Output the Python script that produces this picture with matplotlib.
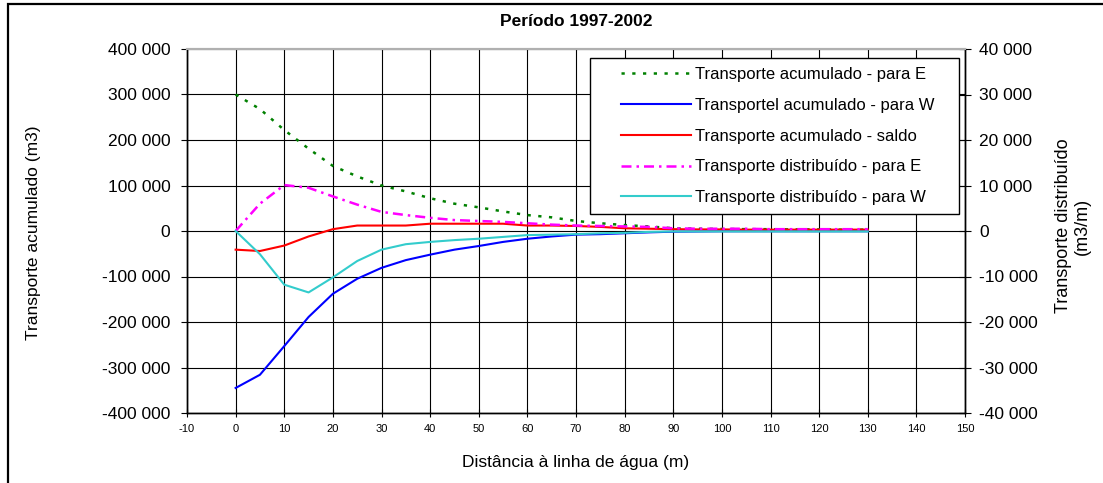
# Transporte acumulado e distribuído ao longo do perfil (1997-2002)
import matplotlib.pyplot as plt
from matplotlib.patches import Rectangle
from matplotlib.ticker import FuncFormatter

plt.rcParams['font.family'] = ['Liberation Sans', 'DejaVu Sans']
plt.rcParams['axes.unicode_minus'] = False

# distância à linha de água (m)
dist = [0, 5, 10, 15, 20, 25, 30, 35, 40, 45, 50, 55, 60, 65, 70,
        75, 80, 85, 90, 95, 100, 105, 110, 115, 120, 125, 130]

# eixo esquerdo (m3)
acum_E = [300000, 268000, 222000, 181000, 143000, 120000, 100000, 87000, 72000,
          60000, 52000, 43000, 35000, 30000, 22000, 17000, 13000, 10000, 6000,
          5000, 4500, 4000, 4000, 3500, 3500, 3000, 3000]
acum_W = [-345000, -316000, -253000, -189000, -138000, -105000, -81000, -64000,
          -52000, -41000, -33000, -24000, -17000, -12000, -8000, -7000, -5000,
          -3000, -1500, -1000, -500, -500, -500, -500, -500, -500, -500]
saldo = [-41000, -44000, -32000, -12000, 4000, 12000, 12000, 12000, 16000, 16000,
         16000, 16000, 12000, 12000, 11000, 9000, 6000, 5000, 4000, 3500, 3500,
         3000, 3000, 3000, 3000, 3000, 3000]

# eixo direito (m3/m)
distr_E = [0, 6000, 10100, 9500, 7600, 5800, 4200, 3500, 2900, 2400, 2200, 2000,
           1700, 1400, 1200, 1100, 1000, 900, 600, 500, 500, 500, 400, 400, 400,
           400, 400]
distr_W = [0, -5100, -11800, -13500, -10200, -6600, -4100, -2900, -2400, -2000,
           -1700, -1300, -900, -800, -700, -500, -400, -200, -100, -100, -100,
           -100, -100, -100, -100, -100, -100]

W, H = 1103, 483
fig = plt.figure(figsize=(W / 100, H / 100), dpi=100)
x0, x1, y0, y1 = 187, 965, 49, 413
ax = fig.add_axes([x0 / W, 1 - y1 / H, (x1 - x0) / W, (y1 - y0) / H])
ax2 = ax.twinx()

# moldura exterior
fig.patches.append(Rectangle((8 / W, -0.1), 1.2, 1 - 4 / H + 0.1, transform=fig.transFigure,
                             fill=False, edgecolor='black', linewidth=1.6))

fmt = FuncFormatter(lambda v, p: f"{int(v):,}".replace(",", " "))

l1, = ax.plot(dist, acum_E, color='#008000', linewidth=1.8, linestyle=(0, (1.3, 3)),
              label='Transporte acumulado - para E')
l2, = ax.plot(dist, acum_W, color='#0000ff', linewidth=1.5,
              label='Transportel acumulado - para W')
l3, = ax.plot(dist, saldo, color='#ff0000', linewidth=1.5,
              label='Transporte acumulado - saldo')
l4, = ax2.plot(dist, distr_E, color='#ff00ff', linewidth=1.8, linestyle=(0, (4, 2, 1, 2)),
               label='Transporte distribuído - para E')
l5, = ax2.plot(dist, distr_W, color='#33cccc', linewidth=1.5,
               label='Transporte distribuído - para W')

ax.set_xlim(-10, 150)
ax.set_xticks(range(-10, 151, 10))
ax.set_ylim(-400000, 400000)
ax.set_yticks(range(-400000, 400001, 100000))
ax2.set_ylim(-40000, 40000)
ax2.set_yticks(range(-40000, 40001, 10000))
ax.yaxis.set_major_formatter(fmt)
ax2.yaxis.set_major_formatter(fmt)

ax.grid(True, color='black', linewidth=0.8)
ax.tick_params(axis='y', direction='out', length=4, pad=8, labelsize=12.5)
ax.tick_params(axis='x', direction='inout', length=6, pad=5, labelsize=8)
ax2.tick_params(axis='y', direction='inout', length=8, pad=6, labelsize=12.5)

for a in (ax, ax2):
    a.spines['top'].set_color('#b0b0b0')
    a.spines['top'].set_linewidth(1.5)
    for s in ('left', 'right', 'bottom'):
        a.spines[s].set_linewidth(1.0)

# caixa da legenda (posição fixa) + legenda sem moldura por cima
def px(x, y):
    return (x - x0) / (x1 - x0), (y1 - y) / (y1 - y0)

bx, by = px(590, 214)
bw = (959 - 590) / (x1 - x0)
bh = (214 - 58) / (y1 - y0)
ax2.add_patch(Rectangle((bx, by), bw, bh, transform=ax2.transAxes, facecolor='white',
                        edgecolor='black', linewidth=1.0, zorder=4))
leg = ax2.legend(handles=[l1, l2, l3, l4, l5], loc='upper left',
                 bbox_to_anchor=px(621, 67), fontsize=12, handlelength=4.2,
                 handletextpad=0.25, labelspacing=0.95, borderpad=0, borderaxespad=0,
                 frameon=False)
leg.set_zorder(5)

fig.text(576 / W, 1 - 21 / H, 'Período 1997-2002', ha='center', va='center',
         fontsize=12.5, fontweight='bold')
fig.text(576 / W, 1 - 462 / H, 'Distância à linha de água (m)', ha='center', va='center',
         fontsize=12.5)
fig.text(34 / W, 1 - 233 / H, 'Transporte acumulado (m3)', rotation=90, ha='center',
         va='center', fontsize=12.5)
fig.text(1073 / W, 1 - 226 / H, 'Transporte distribuído\n(m3/m)', rotation=90, ha='center',
         va='center', fontsize=13, multialignment='center', linespacing=1.1)

plt.savefig('out.png', dpi=100)
